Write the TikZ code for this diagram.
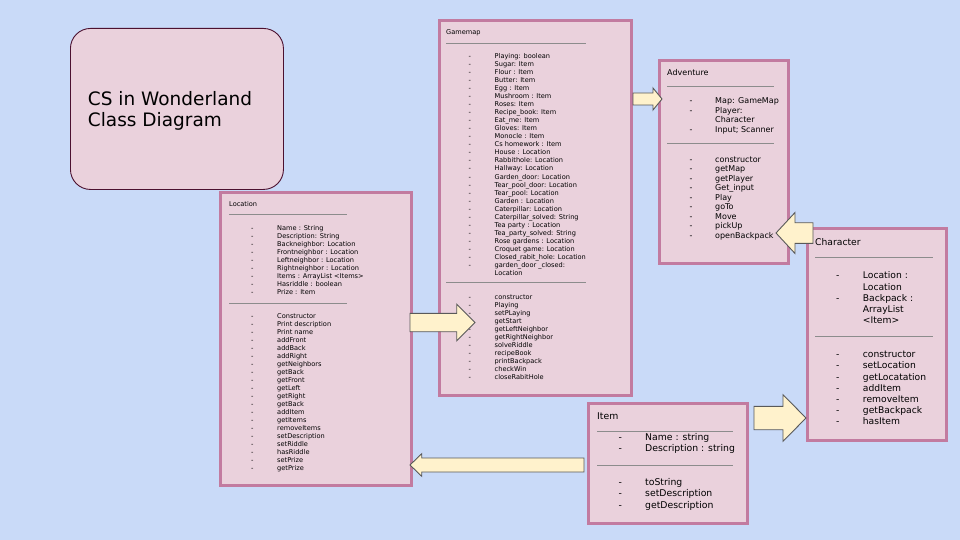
\documentclass[tikz,border=0pt]{standalone}
\usepackage{fontspec}
\setmainfont{DejaVu Sans}
\usetikzlibrary{calc}

\definecolor{bgblue}{HTML}{C9DAF8}
\definecolor{boxfill}{HTML}{EAD1DC}
\definecolor{boxedge}{HTML}{C27BA0}
\definecolor{titleedge}{HTML}{4C1130}
\definecolor{arrowfill}{HTML}{FFF2CC}
\definecolor{arrowedge}{HTML}{595959}
\definecolor{rulegray}{HTML}{8C8C8C}

%% block arrow: from, to, half body, half head, head length
\newcommand\blockarrow[5]{%
  \coordinate (headbase) at ($(#2)!#5pt!(#1)$);
  \draw[arrowdecorate] ($(#1)!#3pt!90:(#2)$) -- ($(headbase)!#3pt!90:(#2)$)
    -- ($(headbase)!#4pt!90:(#2)$) -- (#2) -- ($(headbase)!#4pt!-90:(#2)$)
    -- ($(headbase)!#3pt!-90:(#2)$) -- ($(#1)!#3pt!-90:(#2)$) -- cycle;
}
%% member list: dash x, text x, first baseline, line step, list
\newcommand\memberlist[5]{%
  \foreach \mkey/\mtext [count=\i from 0] in {#5} {
    \node[member] at (#1,#3+#4*\i) {\mkey};
    \node[member] at (#2,#3+#4*\i) {\mtext};
  }
}

\begin{document}
\begin{tikzpicture}
[x=1pt,y=-1pt,
  classbox/.style={draw=boxedge,line width=3pt,fill=boxfill,anchor=north west,inner sep=0pt},%
  titlebox/.style={draw=titleedge,line width=0.9pt,fill=boxfill,rounded corners=20pt,anchor=north west,inner sep=0pt},%
  member/.style={anchor=base west,inner sep=0pt},%
  seprule/.style={draw=rulegray,line width=0.9pt},%
  arrowdecorate/.style={draw=arrowedge,line width=0.9pt,fill=arrowfill,line join=miter}]
\fill[bgblue] (0,0) rectangle (960,540);

%% title
\node[titlebox,minimum width=213,minimum height=161] (titlecard) at (70,28) {};
\node[member,align=left,font=\fontsize{18.5}{21.3}\selectfont] (titletext) at (87.7,126.8)
  {CS in Wonderland\\Class Diagram};

%% class boxes
\node[classbox,minimum width=192,minimum height=375] (gamemap) at (438,19) {};
\node[classbox,minimum width=191,minimum height=293] (location) at (219,191) {};
\node[classbox,minimum width=129,minimum height=203] (adventure) at (658,59) {};
\node[classbox,minimum width=139,minimum height=212] (character) at (806,227) {};
\node[classbox,minimum width=159,minimum height=120] (item) at (587,402) {};

%% Gamemap
\begin{scope}[font=\fontsize{6.6}{8}\selectfont]
\node[member] (gamemapname) at (446,35) {Gamemap};
\draw[seprule] (446,43) -- (586,43);
\memberlist{468.5}{494.5}{59}{8}{-/Playing: boolean, -/Sugar: Item, -/Flour : Item,
  -/Butter: Item, -/Egg : Item, -/Mushroom : Item, -/Roses: Item, -/Recipe\_book: Item,
  -/Eat\_me: Item, -/Gloves: Item, -/Monocle : Item, -/Cs homework : Item,
  -/House : Location, -/Rabbithole: Location, -/Hallway: Location,
  -/Garden\_door: Location, -/Tear\_pool\_door: Location, -/Tear\_pool: Location,
  -/Garden : Location, -/Caterpillar: Location, -/Caterpillar\_solved: String,
  -/Tea party : Location, -/Tea\_party\_solved: String, -/Rose gardens : Location,
  -/Croquet game: Location, -/Closed\_rabit\_hole: Location,
  -/garden\_door \_closed:, /Location}
\draw[seprule] (446,282.5) -- (586,282.5);
\memberlist{468.5}{494.5}{299}{8}{-/constructor, -/Playing, -/setPLaying, -/getStart,
  -/getLeftNeighbor, -/getRightNeighbor, -/solveRiddle, -/recipeBook,
  -/printBackpack, -/checkWin, -/closeRabitHole}
\end{scope}

%% Location
\begin{scope}[font=\fontsize{6.6}{8}\selectfont]
\node[member] (locationname) at (229,206) {Location};
\draw[seprule] (229,214) -- (347,214);
\memberlist{251}{277}{230.5}{8}{-/Name : String, -/Description: String,
  -/Backneighbor: Location, -/Frontneighbor : Location, -/Leftneighbor : Location,
  -/Rightneighbor : Location, -/Items : ArrayList <Items>, -/Hasriddle : boolean,
  -/Prize : Item}
\draw[seprule] (229,303) -- (347,303);
\memberlist{251}{277}{318}{8}{-/Constructor, -/Print description, -/Print name,
  -/addFront, -/addBack, -/addRight, -/getNeighbors, -/getBack, -/getFront,
  -/getLeft, -/getRight, -/getBack, -/addItem, -/getItems, -/removeItems,
  -/setDescription, -/setRiddle, -/hasRiddle, -/setPrize, -/getPrize}
\end{scope}

%% Adventure
\begin{scope}[font=\fontsize{8}{9.5}\selectfont]
\node[member] (adventurename) at (667,75.3) {Adventure};
\draw[seprule] (667,86) -- (774,86);
\memberlist{689.3}{715}{103.6}{9.5}{-/Map: GameMap, -/Player:, /Character,
  -/Input; Scanner}
\draw[seprule] (667,143.3) -- (774,143.3);
\memberlist{689.3}{715}{162.2}{9.5}{-/constructor, -/getMap, -/getPlayer,
  -/Get\_input, -/Play, -/goTo, -/Move, -/pickUp, -/openBackpack}
\end{scope}

%% Character
\begin{scope}[font=\fontsize{9.2}{11.2}\selectfont]
\node[member] (charactername) at (815,245.4) {Character};
\draw[seprule] (815,257) -- (933,257);
\memberlist{836}{862.7}{278.7}{11.3}{-/Location :, /Location, -/Backpack :,
  /ArrayList, /<Item>}
\draw[seprule] (815,336.3) -- (933,336.3);
\memberlist{836}{862.7}{357.7}{11.17}{-/constructor, -/setLocation,
  -/getLocatation, -/addItem, -/removeItem, -/getBackpack, -/hasItem}
\end{scope}

%% Item
\begin{scope}[font=\fontsize{9.3}{11.2}\selectfont]
\node[member] (itemname) at (597,419.4) {Item};
\draw[seprule] (597,431) -- (733,431);
\memberlist{618.3}{645}{440.6}{11}{-/Name : string, -/Description : string}
\draw[seprule] (597,465.3) -- (733,465.3);
\memberlist{618.3}{645}{485.6}{11.2}{-/toString, -/setDescription, -/getDescription}
\end{scope}

%% arrows
\coordinate (gm-out) at (gamemap.east |- 0,99);
\coordinate (adv-in) at ($(adventure.west |- 0,99)+(4,0)$);
\coordinate (loc-out) at ($(location.east |- 0,322.5)+(-3,0)$);
\coordinate (gm-in) at ($(gamemap.west |- 0,322.5)+(37,0)$);
\coordinate (chr-out) at ($(character.west |- 0,233)+(7,0)$);
\coordinate (adv-back) at ($(adventure.east |- 0,233)+(-14,0)$);
\coordinate (item-out) at ($(item.east |- 0,418)+(5,0)$);
\coordinate (chr-in) at (character.west |- 0,418);
\coordinate (item-back) at ($(item.west |- 0,465)+(-3,0)$);
\coordinate (loc-in) at ($(location.east |- 0,465)+(-3,0)$);
\blockarrow{gm-out}{adv-in}{6}{11}{9}
\blockarrow{loc-out}{gm-in}{9.2}{18.2}{18.3}
\blockarrow{chr-out}{adv-back}{10.3}{20.5}{19}
\blockarrow{item-out}{chr-in}{11.7}{23.3}{23}
\blockarrow{item-back}{loc-in}{7}{11.3}{11.7}
\end{tikzpicture}
\end{document}
